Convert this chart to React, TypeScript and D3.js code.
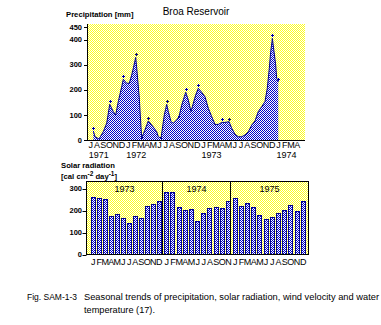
import React from 'react';
import * as d3 from 'd3';

// ---------- Precipitation (month index 0 = Jul 1971) ----------
const precipMonth = [0.42, 0.69, 1.33, 2.01, 2.56, 3.04, 3.61, 3.99, 4.41, 4.95, 5.21, 5.75, 6.17, 6.55, 6.81, 7.19, 7.35, 7.76, 8.04, 8.15, 8.67, 9.2, 9.74, 10.54, 10.8, 11.23, 11.76, 12.14, 12.4, 12.83, 13.19, 13.74, 14.11, 14.54, 14.95, 15.18, 15.59, 16.02, 16.39, 16.77, 17.19, 17.73, 18.26, 18.79, 19.33, 19.86, 20.38, 20.93, 21.45, 22.09, 22.52, 23.05, 23.58, 24.12, 24.65, 25.18, 25.73, 26.25, 26.77, 27.32, 27.84, 28.21, 28.53, 28.75, 28.96, 29.01, 29.28, 29.55, 29.71, 29.97];
const precipMm = [36, 13, 4, 33, 67, 142, 113, 100, 153, 212, 242, 226, 226, 259, 286, 329, 287, 167, 48, 9, 40, 76, 60, 33, 13, 7, 100, 142, 113, 73, 67, 80, 93, 139, 172, 190, 159, 113, 146, 179, 206, 190, 172, 126, 93, 62, 62, 70, 70, 73, 47, 23, 13, 13, 20, 33, 60, 76, 113, 133, 153, 206, 286, 352, 392, 405, 352, 299, 246, 232];
const precipMark = ['+', '', '', '', '', '+', '', '', '', '', '+', '', '', '', '', '+', '', '', '', '.', '', '+', '', '', '', '.', '', '+', '', '', '', '', '.', '', '', '+', '', '', '', '', '+', '', '', '', '', '', '', '+', '', '+', '', '', '', '', '', '', '', '', '', '', '', '', '', '', '', '+', '', '', '', '+'];
const precipMonthLetters = ['J', 'A', 'S', 'O', 'N', 'D', 'J', 'F', 'M', 'A', 'M', 'J', 'J', 'A', 'S', 'O', 'N', 'D', 'J', 'F', 'M', 'A', 'M', 'J', 'J', 'A', 'S', 'O', 'N', 'D', 'J', 'F', 'M', 'A'];
const precipYears = ['1971', '1972', '1973', '1974'];
const precipYearStart = [0, 6, 18, 30];
const precipTicks = [0, 100, 200, 300, 400, 450];

// ---------- Solar radiation ----------
const solarYears = ['1973', '1974', '1975'];
const solar1973 = [263, 257, 252, 175, 185, 166, 145, 175, 166, 220, 231, 243];
const solar1974 = [284, 284, 216, 202, 205, 152, 189, 211, 216, 211, 243];
const solar1975 = [257, 220, 234, 216, 180, 161, 170, 189, 202, 225, 198, 243];
const solarLetters1973 = ['J', 'F', 'M', 'A', 'M', 'J', 'J', 'A', 'S', 'O', 'N', 'D'];
const solarLetters1974 = ['J', 'F', 'M', 'A', 'M', 'J', 'J', 'A', 'S', 'O', 'N'];
const solarLetters1975 = ['J', 'F', 'M', 'A', 'M', 'J', 'J', 'A', 'S', 'O', 'N', 'D'];
const solarTicks = [0, 100, 200, 300];

const FONT = '"Liberation Sans", Arial, sans-serif';
const BLUE = '#0000c8';
const DARK = '#000090';

export default function App() {
  // precipitation scales
  const px = d3.scaleLinear().domain([0, 33]).range([90.7, 297.3]);
  const py = d3.scaleLinear().domain([0, 450]).range([140, 27]);
  const pLeft = Math.round(px(-0.43));
  const pRight = Math.round(px(34.23));
  const pTop = 24;
  const pBottom = Math.round(py(0));

  const pts = precipMonth.map((m, i) => ({ m, v: precipMm[i], mk: precipMark[i] }));
  const area = d3.area<any>().x(d => px(d.m)).y0(py(0)).y1(d => py(d.v)).curve(d3.curveLinear);
  const line = d3.line<any>().x(d => px(d.m)).y(d => py(d.v));

  // solar scales
  const solarValues = [...solar1973, ...solar1974, ...solar1975];
  const solarLetters = [...solarLetters1973, ...solarLetters1974, ...solarLetters1975];
  const yearStarts = [0, solar1973.length, solar1973.length + solar1974.length];
  const n = solarValues.length;
  const sx = d3.scaleLinear()
    .domain([0, 11, 12, 22, 23, n - 1])
    .range([90.7, 156.7, 164.3, 226, 232.7, 300.7]);
  const sy = d3.scaleLinear().domain([0, 300]).range([254.5, 188.5]);
  const barW = 4;
  const sLeft = 86.5;
  const sRight = 308.5;
  const sTop = 181.5;
  const sBottom = 254.5;
  const dividers = yearStarts.slice(1).map(s => Math.round(sx(s) - 2.5) + 0.5);
  const sectionEdges = [sLeft, ...dividers, sRight];

  return (
    <svg width={381} height={325} style={{ position: 'absolute', left: 0, top: 0, background: '#fff' }}
      fontFamily={FONT}>
      <defs>
        <pattern id="yel" width={2} height={2} patternUnits="userSpaceOnUse">
          <rect width={2} height={2} fill="#ffffff" />
          <rect x={0} y={0} width={1} height={1} fill="#ffff20" />
          <rect x={1} y={1} width={1} height={1} fill="#ffff20" />
        </pattern>
        <pattern id="blu" width={2} height={2} patternUnits="userSpaceOnUse">
          <rect width={2} height={2} fill="#ffffff" />
          <rect x={0} y={0} width={1} height={1} fill={BLUE} />
          <rect x={1} y={1} width={1} height={1} fill={BLUE} />
        </pattern>
      </defs>

      {/* ---------- Precipitation panel ---------- */}
      <text x={196} y={15} fontSize={10} textAnchor="middle" fill="#000">Broa Reservoir</text>
      <text x={66} y={17} fontSize={7.7} fontWeight="bold" fill="#000">Precipitation [mm]</text>

      <rect x={pLeft} y={pTop} width={pRight - pLeft} height={pBottom - pTop} fill="url(#yel)" />
      <path d={area(pts) || ''} fill="url(#blu)" />
      <path d={line(pts) || ''} fill="none" stroke={DARK} strokeWidth={1} />
      {pts.filter(d => d.mk === '+').map((d, i) => (
        <path key={'p' + i}
          d={`M${Math.round(px(d.m)) - 1.5},${Math.round(py(d.v)) - 2.5}h3M${Math.round(px(d.m))},${Math.round(py(d.v)) - 4}v3`}
          stroke={DARK} strokeWidth={1} shapeRendering="crispEdges" />
      ))}
      {pts.filter(d => d.mk === '.').map((d, i) => (
        <rect key={'d' + i} x={Math.round(px(d.m)) - 1} y={Math.round(py(d.v)) - 1} width={2} height={2} fill={DARK} />
      ))}

      <line x1={pLeft - 0.5} x2={pLeft - 0.5} y1={pTop} y2={pBottom + 1} stroke="#000" strokeWidth={1} />
      <line x1={pLeft - 1} x2={pRight} y1={pBottom + 0.5} y2={pBottom + 0.5} stroke="#000" strokeWidth={1} />
      {precipTicks.map(t => (
        <g key={t}>
          <line x1={pLeft - 4} x2={pLeft - 1} y1={Math.round(py(t)) + 0.5} y2={Math.round(py(t)) + 0.5} stroke="#000" />
          <text x={82} y={py(t)} dy="0.35em" fontSize={7.5} fontWeight="bold" textAnchor="end" fill="#000">{t}</text>
        </g>
      ))}
      {precipMonthLetters.map((l, i) => (
        <text key={i} x={px(i)} y={148} fontSize={9} textAnchor="middle" fill="#000">{l}</text>
      ))}
      {precipYears.map((y, i) => (
        <text key={y} x={px(precipYearStart[i]) - 2} y={158} fontSize={9} fill="#000">{y}</text>
      ))}

      {/* ---------- Solar radiation panel ---------- */}
      <text x={61} y={168} fontSize={7.7} fontWeight="bold" fill="#000">Solar radiation</text>
      <text x={61} y={178.5} fontSize={7.7} fontWeight="bold" fill="#000">
        [cal cm<tspan dy={-3} fontSize={6.5}>-2</tspan><tspan dy={3}> day</tspan><tspan dy={-3} fontSize={6.5}>-1</tspan><tspan dy={3}>]</tspan>
      </text>

      <rect x={sLeft} y={sTop} width={sRight - sLeft} height={sBottom - sTop} fill="url(#yel)" />
      {solarValues.map((v, i) => {
        const x0 = Math.round(sx(i)) + 0.5;
        const y0 = Math.round(sy(v)) + 0.5;
        return (
          <rect key={i} x={x0} y={y0} width={barW} height={sBottom - y0} fill="url(#blu)" stroke={DARK} strokeWidth={1} />
        );
      })}
      <rect x={sLeft} y={sTop} width={sRight - sLeft} height={sBottom - sTop} fill="none" stroke="#000" strokeWidth={1} />
      {dividers.map((d, i) => (
        <line key={i} x1={d} x2={d} y1={sTop} y2={sBottom} stroke="#000" strokeWidth={1} />
      ))}
      {solarYears.map((y, i) => (
        <text key={y} x={(sectionEdges[i] + sectionEdges[i + 1]) / 2} y={192} fontSize={9} textAnchor="middle" fill="#000">{y}</text>
      ))}
      {solarTicks.map(t => (
        <g key={t}>
          <line x1={sLeft - 4} x2={sLeft} y1={Math.round(sy(t)) + 0.5} y2={Math.round(sy(t)) + 0.5} stroke="#000" />
          <text x={82} y={sy(t)} dy="0.35em" fontSize={7.5} fontWeight="bold" textAnchor="end" fill="#000">{t}</text>
        </g>
      ))}
      {solarLetters.map((l, i) => (
        <text key={i} x={sx(i) + barW / 2 + 0.5} y={264.5} fontSize={9} textAnchor="middle" fill="#000">{l}</text>
      ))}

      {/* ---------- Caption ---------- */}
      <text x={27} y={300} fontSize={9.2} fill="#000" textLength={50} lengthAdjust="spacingAndGlyphs">Fig. SAM-1-3</text>
      <text x={84} y={300} fontSize={9.2} fill="#000" textLength={295} lengthAdjust="spacingAndGlyphs">Seasonal trends of precipitation, solar radiation, wind velocity and water</text>
      <text x={84} y={313} fontSize={9.2} fill="#000">temperature (17).</text>
    </svg>
  );
}
